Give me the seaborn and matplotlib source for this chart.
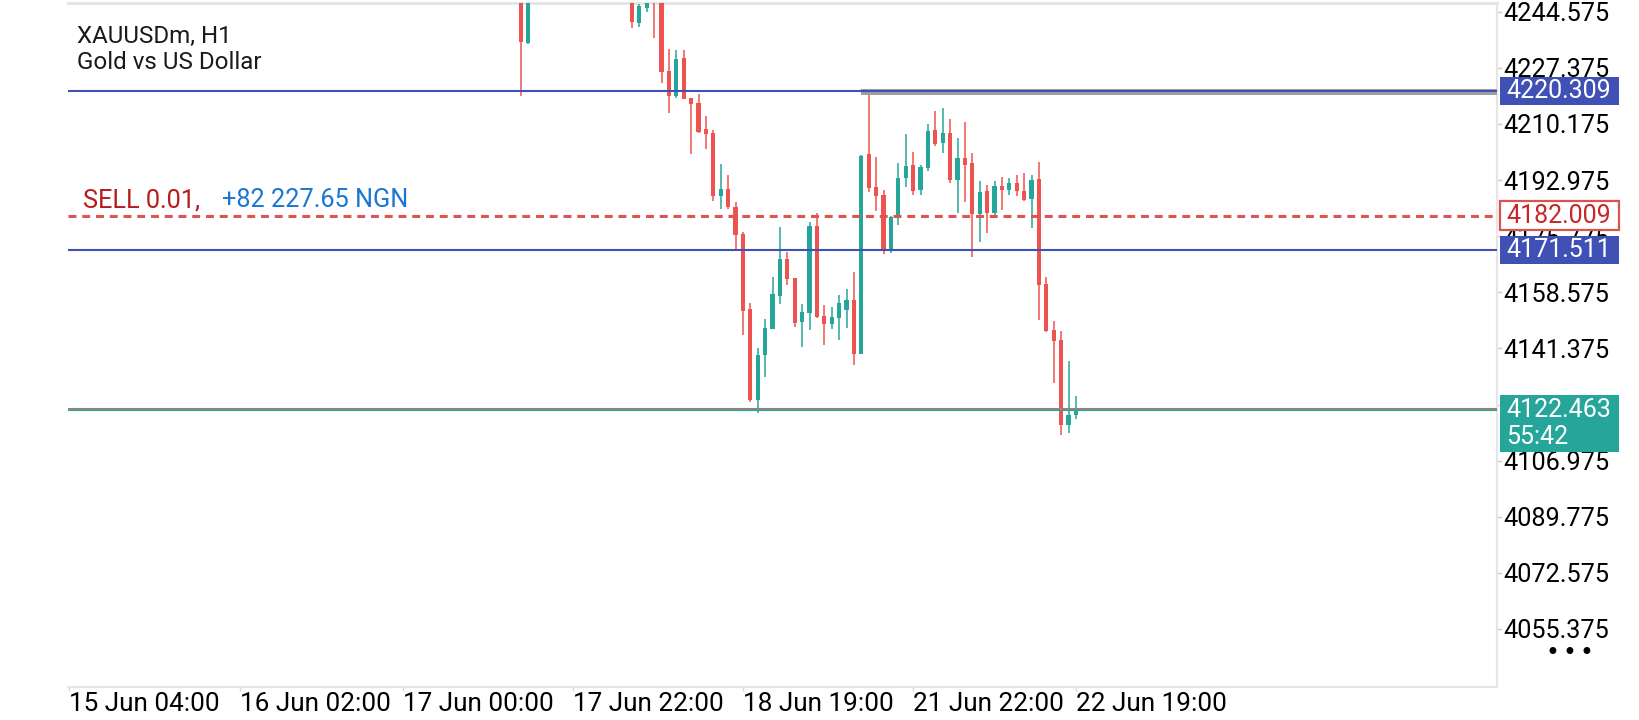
import numpy as np
import matplotlib
matplotlib.use("Agg")
import matplotlib.pyplot as plt
import matplotlib.transforms as mtransforms
from matplotlib.patches import Rectangle
import seaborn as sns

nan = np.nan

# H1 candles, oldest first (bars 2-14 sit above the visible range)
opens = [4262.0, 4234.9] + [nan] * 13 + [
    4252.0, 4241.2, 4245.7, 4255.0, 4250.5,
    4226.5, 4218.7, 4230.4, 4218.2, 4216.6, 4208.6, 4207.4, 4188.2, 4190.2, 4184.6,
    4176.4, 4153.5, 4125.6, 4139.4, 4147.4, 4157.5, 4168.8, 4163.0, 4149.5, 4152.3,
    4178.9, 4151.3, 4148.9, 4150.8, 4153.1, 4156.2, 4139.8, 4201.0, 4190.8, 4188.4,
    4171.8, 4181.3, 4193.7, 4197.6, 4189.9, 4196.8, 4208.3, 4204.2, 4207.3, 4193.0,
    4199.7, 4198.2, 4182.5, 4189.6, 4183.0, 4191.2, 4189.9, 4192.1, 4189.6, 4187.2,
    4193.3, 4161.1, 4147.0, 4144.0, 4117.9, 4121.0]
highs = [4264.0, 4258.0] + [nan] * 13 + [
    4254.0, 4246.9, 4249.5, 4257.0, 4252.0,
    4233.1, 4232.8, 4232.8, 4218.2, 4219.3, 4212.6, 4208.3, 4197.9, 4194.6, 4186.3,
    4177.1, 4155.3, 4141.5, 4150.4, 4163.3, 4178.6, 4170.8, 4163.0, 4155.0, 4180.2,
    4182.8, 4154.7, 4154.1, 4157.7, 4159.6, 4164.8, 4200.7, 4219.6, 4200.1, 4189.9,
    4182.0, 4198.1, 4207.1, 4201.5, 4197.6, 4210.2, 4214.1, 4215.0, 4211.7, 4205.9,
    4210.8, 4201.3, 4192.7, 4191.5, 4192.7, 4194.0, 4193.6, 4194.5, 4195.1, 4194.5,
    4198.5, 4163.3, 4149.8, 4146.7, 4137.6, 4126.8]
lows = [4218.8, 4234.7] + [nan] * 13 + [
    4239.7, 4240.0, 4244.5, 4236.6, 4222.8,
    4213.6, 4218.2, 4217.8, 4201.1, 4207.5, 4202.6, 4186.6, 4184.1, 4184.1, 4171.8,
    4145.6, 4125.0, 4121.7, 4132.7, 4147.4, 4155.1, 4160.8, 4148.0, 4141.9, 4147.0,
    4150.6, 4142.4, 4147.3, 4143.9, 4147.7, 4136.3, 4139.8, 4189.3, 4183.5, 4170.3,
    4170.7, 4179.2, 4190.9, 4188.4, 4188.4, 4195.8, 4203.5, 4201.4, 4192.2, 4183.0,
    4186.3, 4169.4, 4174.1, 4176.8, 4182.0, 4183.8, 4188.5, 4188.1, 4186.6, 4178.3,
    4150.1, 4146.4, 4130.8, 4114.8, 4115.4, 4119.7]
closes = [4235.4, 4256.0] + [nan] * 13 + [
    4241.5, 4246.3, 4247.6, 4250.5, 4226.2,
    4218.7, 4230.1, 4217.8, 4216.4, 4207.7, 4207.2, 4188.2, 4190.2, 4184.6, 4176.2,
    4152.9, 4125.6, 4139.4, 4147.6, 4158.1, 4168.8, 4162.7, 4149.3, 4152.5, 4178.9,
    4151.1, 4148.9, 4150.9, 4155.2, 4156.2, 4139.8, 4200.4, 4190.6, 4188.2, 4171.8,
    4181.7, 4193.5, 4197.3, 4189.6, 4197.0, 4208.0, 4204.0, 4207.3, 4193.0, 4199.7,
    4197.7, 4182.7, 4189.3, 4183.0, 4191.2, 4189.9, 4192.1, 4189.6, 4186.9, 4193.0,
    4160.8, 4146.7, 4143.7, 4117.9, 4121.0, 4122.463]

# axis labels
tick_bars = [-61, -38, -16, 7, 30, 53, 75]
time_labels = ["15 Jun 04:00", "16 Jun 02:00", "17 Jun 00:00", "17 Jun 22:00",
               "18 Jun 19:00", "21 Jun 22:00", "22 Jun 19:00"]
price_ticks = [4055.375, 4072.575, 4089.775, 4106.975, 4124.175, 4141.375,
               4158.575, 4175.775, 4192.975, 4210.175, 4227.375, 4244.575]

# levels on the chart
level_hi = 4220.309
level_lo = 4171.511
sell_price = 4182.009
bid_price = 4122.463
countdown = "55:42"
hi_from_bar = 46

GREEN = "#26a69a"
RED = "#ef5350"
BLUE = "#3f51b5"
DASH_RED = "#e0544f"
TEXT_RED = "#b71c1c"
TEXT_BLUE = "#1976d2"
FRAME = "#e6e6e6"

sns.set_theme(style="white")
plt.rcParams["font.family"] = ["Roboto", "DejaVu Sans"]

fig = plt.figure(figsize=(16.4, 7.2), dpi=100)
ax = fig.add_axes([68 / 1640, 1 - 687 / 720, (1496.7 - 68) / 1640, 684 / 720])

o = np.array(opens)
h = np.array(highs)
l = np.array(lows)
c = np.array(closes)
x = np.arange(len(o))
ok = ~np.isnan(o)
colors = np.where(c >= o, GREEN, RED)

ax.vlines(x[ok], l[ok], h[ok], colors=colors[ok], lw=1.1, zorder=3)
body_low = np.minimum(o, c)
body_h = np.maximum(np.abs(c - o), 0.5)
ax.bar(x[ok], body_h[ok], bottom=body_low[ok], width=0.56,
       color=colors[ok], lw=0, zorder=4)

xmin, xmax = -61.2, 131.85

# horizontal levels
ax.hlines(level_hi - 0.35, hi_from_bar - 0.1, xmax, color="#9e9e9e", lw=4.3, zorder=5)
ax.axhline(level_hi, color=BLUE, lw=1.5, zorder=6)
ax.axhline(level_lo, color=BLUE, lw=1.5, zorder=6)
ax.axhline(sell_price, color=DASH_RED, lw=2.2, ls=(0, (2.6, 1.9)), zorder=6)
ax.axhline(bid_price - 0.1, color=GREEN, lw=0.8, zorder=6)
ax.axhline(bid_price + 0.25, color="#8c8680", lw=1.5, zorder=7)

ax.set_xlim(xmin, xmax)
ax.set_ylim(4037.59, 4247.24)

# axes styling
for side in ["top", "right", "bottom"]:
    ax.spines[side].set_visible(True)
    ax.spines[side].set_color(FRAME)
ax.spines["left"].set_visible(False)
ax.spines["top"].set_linewidth(2.2)
ax.spines["right"].set_linewidth(1.6)
ax.spines["bottom"].set_linewidth(1.6)

ax.yaxis.tick_right()
ax.set_yticks(price_ticks)
ax.set_yticklabels([f"{p:.3f}" for p in price_ticks])
ax.tick_params(axis="y", direction="out", length=3.5, width=1, color="#d0d0d0",
               pad=1.5, labelsize=18.2, labelcolor="black", right=True, left=False)
ax.set_xticks(tick_bars)
ax.set_xticklabels(time_labels, ha="left")
ax.tick_params(axis="x", direction="out", length=3, width=1, color="#d8d8d8",
               pad=0.5, labelsize=18.8, labelcolor="black", bottom=True)
ax.grid(False)

# price tags on the right scale
trans = mtransforms.blended_transform_factory(ax.transAxes, ax.transData)
tag_x, tag_w, txt_x = 1.0023, 0.0833, 1.0065


def price_tag(price, face, edge, txt_color, lower=4.4, upper=4.4, lines=None):
    ax.add_patch(Rectangle((tag_x, price - lower), tag_w, lower + upper,
                           transform=trans, clip_on=False, facecolor=face,
                           edgecolor=edge, lw=1.6 if edge != "none" else 0, zorder=20))
    if lines is None:
        lines = [(f"{price:.3f}", price)]
    for txt, yy in lines:
        ax.text(txt_x, yy, txt, transform=trans, color=txt_color,
                fontsize=18, va="center", ha="left", clip_on=False, zorder=21)


price_tag(level_hi, BLUE, "none", "white")
price_tag(sell_price, "white", "#d9534f", "#c62828")
price_tag(level_lo, BLUE, "none", "white", lower=4.2, upper=4.2)
price_tag(bid_price, GREEN, "none", "white", lower=12.9, upper=4.6,
          lines=[(f"{bid_price:.3f}", bid_price), (countdown, bid_price - 8.2)])

# header and trade label
fig.text(76.7 / 1640, 1 - 42.7 / 720, "XAUUSDm, H1", fontsize=17.4, color="#1a1a1a",
         va="baseline")
fig.text(76.7 / 1640, 1 - 69.3 / 720, "Gold vs US Dollar", fontsize=17.4, color="#1a1a1a",
         va="baseline")
fig.text(82.7 / 1640, 1 - 207.3 / 720, "SELL 0.01,", fontsize=18.2, color=TEXT_RED,
         va="baseline")
fig.text(222.3 / 1640, 1 - 207.3 / 720, "+82 227.65 NGN", fontsize=18.2, color=TEXT_BLUE,
         va="baseline")
for dx in (1552, 1569, 1586):
    fig.text(dx / 1640, 1 - 653 / 720, "•", fontsize=17, color="black",
             ha="center", va="center", family="DejaVu Sans")

fig.savefig("out.png", dpi=100, facecolor="white")
